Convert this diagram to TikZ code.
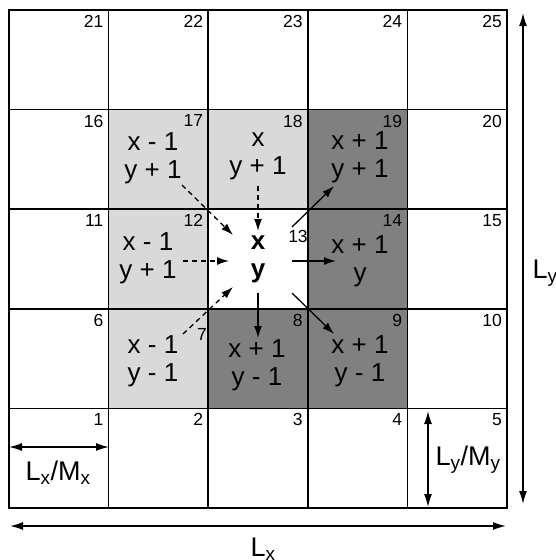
\documentclass[tikz,border=0pt]{standalone}
\usepackage{fontspec}
\setmainfont{Liberation Sans}
\usetikzlibrary{arrows.meta}
\begin{document}
\begin{tikzpicture}[x=1pt,y=-1pt,
  cellbox/.style={draw, line width=1.5pt, minimum size=99.6pt, inner sep=0pt, outer sep=0pt},
  num/.style={font=\fontsize{17.5}{17.5}\selectfont, anchor=north east, inner sep=0pt},
  numc/.style={font=\fontsize{17.5}{17.5}\selectfont, inner sep=0pt},
  big/.style={font=\fontsize{26}{28}\selectfont, align=center, inner sep=0pt},
  dasharrow/.style={line width=1.3pt, dash pattern=on 5pt off 4pt, -{Latex[length=12pt,width=8pt]}},
  solarrow/.style={line width=1.3pt, -{Latex[length=12pt,width=8pt]}},
  dim/.style={line width=1.3pt, {Latex[length=13pt,width=8pt]}-{Latex[length=13pt,width=8pt]}},
  dimlabel/.style={font=\fontsize{27}{27}\selectfont, inner sep=0pt}
]
\useasboundingbox (0,0) rectangle (555,560);
% cells
\foreach \n in {1,...,25}{
  \pgfmathtruncatemacro{\ci}{mod(\n-1,5)}
  \pgfmathtruncatemacro{\rj}{int((\n-1)/5)}
  \node[cellbox] (c\n) at ({9+(\ci+0.5)*99.6},{508-(\rj+0.5)*99.6}) {};
}
% fills
\foreach \n in {17,18,12,7}{ \fill[black!15] (c\n.north west) rectangle (c\n.south east); }
\foreach \n in {19,14,8,9}{ \fill[black!50] (c\n.north west) rectangle (c\n.south east); }
% grid lines redrawn on top
\foreach \n in {1,...,25}{ \draw[line width=1.5pt] (c\n.north west) rectangle (c\n.south east); }
% numbers
\foreach \n in {1,2,3,4,5,6,8,9,10,11,12,14,15,16,17,18,19,20,21,22,23,24,25}{
  \node[num] (n\n) at ([xshift=-5pt,yshift=-5pt]c\n.north east) {\n};
}
\node[numc] (n13) at (298,236) {13};
\node[numc] (n7) at (202,334) {7};
% big labels
\node[big] (l17) at (153,158) {x - 1\\y + 1};
\node[big] (l18) at (258,156) {x\\y + 1};
\node[big] (l19) at (360,157) {x + 1\\y + 1};
\node[big] (l12) at (148,258) {x - 1\\y + 1};
\node[big] (l13) at (258,259) {\textbf{x}\\\textbf{y}};
\node[big] (l14) at (360,261) {x + 1\\y};
\node[big] (l7) at (153,361) {x - 1\\y - 1};
\node[big] (l8) at (257,365) {x + 1\\y - 1};
\node[big] (l9) at (360,361) {x + 1\\y - 1};
% arrow end points
\coordinate (s17) at (182,185); \coordinate (e17) at (233,235);
\coordinate (s18) at (258,186); \coordinate (e18) at (258,231);
\coordinate (s12) at (183,261); \coordinate (e12) at (229,261);
\coordinate (s7) at (183,334); \coordinate (e7) at (233,287);
\coordinate (s19) at (292,227); \coordinate (e19) at (334,186);
\coordinate (s14) at (292,261); \coordinate (e14) at (336,261);
\coordinate (s8) at (258,293); \coordinate (e8) at (258,338);
\coordinate (s9) at (292,293); \coordinate (e9) at (334,334);
\foreach \n in {17,18,12,7}{ \draw[dasharrow] (s\n) -- (e\n); }
\foreach \n in {19,14,8,9}{ \draw[solarrow] (s\n) -- (e\n); }
% dimension arrows
\coordinate (mxa) at (9,447); \coordinate (mxb) at (109,447);
\draw[dim] (mxa) -- (mxb);
\node[dimlabel] (lmx) at (58,473) {L\textsubscript{x}/M\textsubscript{x}};
\coordinate (mya) at (428,411); \coordinate (myb) at (428,507);
\draw[dim] (mya) -- (myb);
\node[dimlabel] (lmy) at (468,460) {L\textsubscript{y}/M\textsubscript{y}};
\coordinate (lya) at (523,13); \coordinate (lyb) at (523,504);
\draw[dim] (lya) -- (lyb);
\node[dimlabel] (lly) at (545,273) {L\textsubscript{y}};
\coordinate (lxa) at (10,526); \coordinate (lxb) at (506,526);
\draw[dim] (lxa) -- (lxb);
\node[dimlabel] (llx) at (263,549) {L\textsubscript{x}};
\end{tikzpicture}
\end{document}
